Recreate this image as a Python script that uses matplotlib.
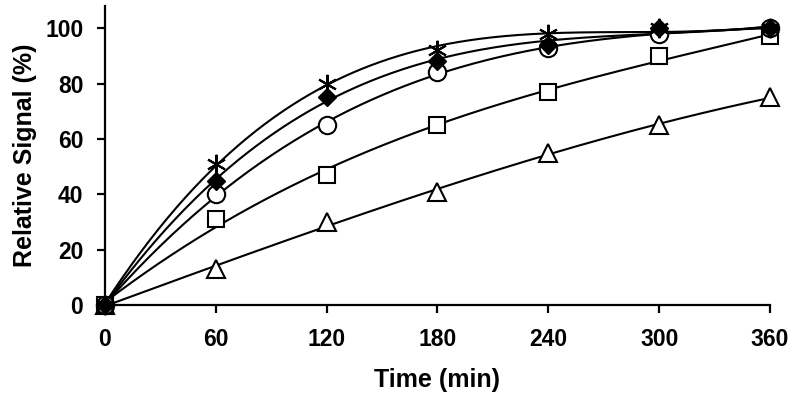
import numpy as np
import matplotlib
matplotlib.use("Agg")
import matplotlib.pyplot as plt

plt.rcParams['font.family'] = ['Liberation Sans', 'DejaVu Sans']

time = [0, 60, 120, 180, 240, 300, 360]
star = [0, 51, 80, 92, 98, 100, 100]
diamond = [0, 45, 75, 88, 94, 100, 100]
circle = [0, 40, 65, 84, 93, 98, 100]
square = [0, 31, 47, 65, 77, 90, 97]
triangle = [0, 13, 30, 41, 55, 65, 75]
xticks = [0, 60, 120, 180, 240, 300, 360]
yticks = [0, 20, 40, 60, 80, 100]

fig = plt.figure(figsize=(8, 4.01), dpi=100)
ax = fig.add_axes([0.131, 0.239, 0.8315, 0.746])

series = [
    (triangle, dict(marker='^', markersize=13, color='black', markerfacecolor='white', markeredgewidth=1.5)),
    (square, dict(marker='s', markersize=12, color='black', markerfacecolor='white', markeredgewidth=1.5)),
    (circle, dict(marker='o', markersize=12.5, color='black', markerfacecolor='white', markeredgewidth=1.5)),
    (diamond, dict(marker='D', markersize=9, color='black', markerfacecolor='black')),
    (star, dict(marker=(6, 2, 0), markersize=14, markeredgewidth=1.5, color='black')),
]
t = np.array(time, dtype=float)
tt = np.linspace(0, 360, 300)
for vals, st in series:
    c = np.polyfit(t, np.array(vals, dtype=float), 3)
    ax.plot(tt, np.polyval(c, tt), color='black', lw=1.5, zorder=2)
for vals, st in series:
    ax.plot(time, vals, linestyle='none', zorder=3, clip_on=False, **st)

ax.set_xlim(0, 360)
ax.set_ylim(0, 108)
ax.set_xticks(xticks)
ax.set_yticks(yticks)
for s in ['top', 'right']:
    ax.spines[s].set_visible(False)
for s in ['left', 'bottom']:
    ax.spines[s].set_linewidth(1.6)
ax.tick_params(direction='out', length=5.5, width=1.6, labelsize=16.5)
ax.tick_params(axis='y', pad=10)
ax.tick_params(axis='x', pad=11)
for lab in ax.get_xticklabels() + ax.get_yticklabels():
    lab.set_fontweight('bold')
ax.set_xlabel('Time (min)', fontsize=18, fontweight='bold', labelpad=12)
ax.set_ylabel('Relative Signal (%)', fontsize=18, fontweight='bold', labelpad=6)
fig.savefig('out.png', dpi=100)
